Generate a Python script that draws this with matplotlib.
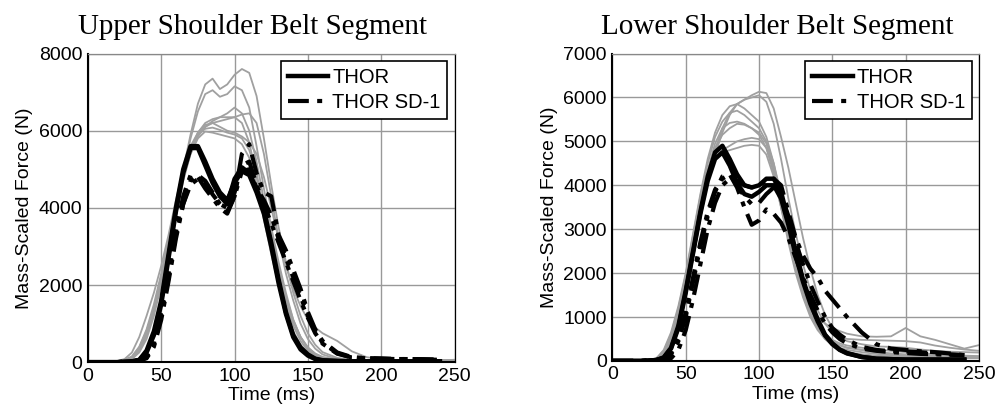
import matplotlib
matplotlib.use("Agg")
import matplotlib.pyplot as plt

# time bases (ms)
time_pmhs = [0, 10, 20, 25, 30, 35, 40, 45, 50, 55, 60, 65, 70, 75, 80, 85, 90, 95, 100, 105,
             110, 115, 120, 125, 130, 135, 140, 145, 150, 155, 160, 170, 180, 190, 200, 210, 220, 230, 240, 250]
time_thor = time_pmhs[:-1]

# Upper shoulder belt - PMHS (gray)
upper_pmhs = [
    [0, 0, 20, 60, 150, 400, 850, 1500, 2300, 3200, 4100, 5000, 5900, 6700, 7200, 7350, 7080, 7200, 7450, 7600,
     7500, 6900, 5800, 4600, 3500, 2600, 1800, 1200, 750, 450, 260, 110, 60, 40, 30, 30, 30, 40, 50, 60],
    [0, 0, 10, 40, 120, 350, 800, 1400, 2200, 3100, 4000, 4900, 5800, 6500, 6950, 7050, 6880, 6950, 7150, 7050,
     6600, 5600, 4500, 3500, 2600, 1800, 1100, 650, 350, 180, 100, 50, 30, 20, 20, 20, 20, 30, 40, 50],
    [0, 0, 10, 30, 100, 300, 700, 1300, 2100, 3000, 3900, 4800, 5500, 5900, 6100, 6250, 6350, 6450, 6600, 6450,
     6000, 5200, 4200, 3300, 2500, 1700, 1100, 650, 380, 220, 130, 60, 40, 30, 20, 20, 20, 30, 40, 50],
    [0, 0, 10, 30, 80, 250, 600, 1200, 2000, 2900, 3800, 4700, 5400, 5850, 6100, 6200, 6250, 6300, 6350, 6420,
     6450, 6200, 5400, 4300, 3200, 2300, 1600, 1000, 600, 350, 200, 80, 50, 30, 20, 20, 20, 30, 40, 50],
    [0, 0, 10, 30, 100, 300, 700, 1300, 2100, 3000, 3900, 4800, 5500, 5950, 6200, 6300, 6350, 6350, 6350, 6200,
     5700, 4800, 3800, 2900, 2100, 1500, 950, 550, 300, 170, 100, 50, 30, 20, 20, 20, 20, 30, 40, 50],
    [0, 0, 30, 80, 250, 650, 1200, 1800, 2500, 3300, 4200, 5000, 5600, 5950, 6150, 6200, 6100, 6000, 5950, 5850,
     5700, 5400, 4800, 4000, 3200, 2500, 1900, 1450, 1100, 900, 750, 550, 280, 130, 70, 50, 40, 40, 50, 60],
    [0, 0, 10, 40, 130, 380, 800, 1400, 2200, 3100, 4000, 4800, 5400, 5800, 5980, 5950, 5900, 5850, 5800, 5650,
     5300, 4600, 3700, 2800, 2000, 1300, 800, 450, 250, 140, 80, 40, 30, 20, 20, 20, 20, 30, 40, 50],
    [0, 0, 10, 30, 100, 300, 700, 1300, 2100, 3000, 3900, 4800, 5500, 5900, 6050, 6080, 6020, 5950, 5900, 5800,
     5500, 4900, 4000, 3100, 2300, 1600, 1050, 650, 380, 220, 130, 60, 40, 30, 20, 20, 20, 30, 40, 50],
]
# Upper shoulder belt - THOR (solid)
upper_thor = [
    [0, 0, 0, 10, 20, 50, 250, 700, 1500, 2700, 3900, 4900, 5550, 5550, 5100, 4650, 4300, 4100, 4750, 5050,
     4900, 4500, 3950, 3100, 2150, 1300, 700, 380, 200, 90, 50, 30, 20, 20, 20, 20, 20, 20, 20],
    [0, 0, 0, 10, 20, 60, 300, 800, 1600, 2800, 4000, 5000, 5600, 5600, 5200, 4750, 4400, 4200, 4650, 4950,
     4850, 4400, 3850, 3000, 2050, 1250, 650, 330, 170, 80, 40, 30, 20, 20, 20, 20, 20, 20, 20],
]
# Upper shoulder belt - THOR SD-1 (dash-dot)
upper_sd1 = [
    [0, 0, 0, 10, 20, 40, 100, 400, 1100, 2100, 3200, 4100, 4700, 4850, 4700, 4400, 4100, 3900, 4300, 5400,
     5650, 4900, 4400, 4300, 3300, 2900, 2400, 1900, 1300, 850, 550, 250, 130, 100, 90, 80, 80, 70, 60],
    [0, 0, 0, 10, 20, 40, 120, 450, 1200, 2200, 3300, 4100, 4600, 4750, 4650, 4350, 4100, 4000, 4400, 5100,
     5200, 4600, 4100, 3600, 3100, 2600, 2100, 1600, 1150, 750, 480, 220, 120, 100, 90, 80, 80, 70, 60],
    [0, 0, 0, 10, 20, 50, 150, 500, 1300, 2300, 3400, 4300, 4850, 4800, 4500, 4250, 4000, 3850, 4300, 4950,
     5000, 4500, 4200, 3800, 3200, 2700, 2200, 1700, 1200, 800, 500, 230, 120, 100, 90, 80, 80, 70, 60],
]

# Lower shoulder belt - PMHS (gray)
lower_pmhs = [
    [0, 0, 10, 20, 50, 200, 550, 1100, 1800, 2600, 3400, 4100, 4700, 5200, 5600, 5850, 5950, 6050, 6130, 6100,
     5750, 5100, 4400, 3600, 2800, 2100, 1500, 1050, 750, 550, 450, 380, 330, 320, 300, 260, 230, 210, 200, 190],
    [0, 0, 10, 20, 40, 150, 450, 950, 1650, 2500, 3350, 4150, 4800, 5300, 5650, 5850, 5950, 6000, 6050, 5900,
     5400, 4600, 3700, 2900, 2200, 1600, 1150, 850, 650, 560, 500, 480, 470, 460, 450, 420, 350, 300, 260, 230],
    [0, 0, 10, 20, 60, 250, 650, 1250, 2000, 2900, 3800, 4600, 5200, 5600, 5800, 5850, 5750, 5600, 5450, 5100,
     4500, 3700, 2900, 2200, 1600, 1100, 750, 500, 350, 250, 200, 150, 120, 100, 90, 80, 70, 60, 60, 60],
    [0, 0, 10, 20, 50, 220, 600, 1200, 1950, 2850, 3750, 4500, 5100, 5450, 5650, 5700, 5600, 5450, 5300, 5000,
     4500, 3800, 3000, 2300, 1700, 1200, 850, 600, 450, 350, 300, 250, 200, 170, 150, 130, 120, 110, 100, 100],
    [0, 0, 10, 20, 50, 200, 550, 1150, 1900, 2750, 3600, 4350, 4950, 5300, 5420, 5450, 5400, 5300, 5150, 4850,
     4300, 3600, 2900, 2200, 1650, 1200, 850, 620, 480, 400, 350, 300, 260, 230, 200, 170, 150, 130, 120, 110],
    [0, 0, 10, 20, 40, 180, 500, 1050, 1800, 2650, 3500, 4200, 4650, 4800, 4900, 5000, 5050, 5080, 5050, 4850,
     4300, 3500, 2700, 2000, 1450, 1000, 700, 500, 380, 300, 250, 200, 160, 130, 110, 100, 90, 80, 80, 80],
    [0, 0, 10, 20, 40, 170, 480, 1000, 1750, 2600, 3450, 4150, 4600, 4750, 4800, 4850, 4900, 4920, 4900, 4700,
     4200, 3500, 2800, 2100, 1500, 1050, 750, 560, 440, 360, 300, 250, 200, 160, 130, 110, 100, 90, 80, 80],
    [0, 0, 10, 20, 50, 200, 550, 1100, 1850, 2700, 3550, 4300, 4850, 5150, 5300, 5400, 5380, 5300, 5200, 4950,
     4400, 3700, 2950, 2250, 1700, 1300, 1000, 850, 750, 680, 620, 560, 550, 560, 750, 560, 480, 380, 280, 360],
]
# Lower shoulder belt - THOR (solid)
lower_thor = [
    [0, 0, 0, 10, 20, 80, 300, 800, 1600, 2500, 3400, 4200, 4750, 4900, 4600, 4250, 4000, 3950, 4000, 4150,
     4150, 3850, 3200, 2500, 1850, 1350, 950, 600, 400, 260, 180, 90, 50, 40, 30, 30, 30, 30, 30],
    [0, 0, 0, 10, 20, 70, 280, 750, 1550, 2450, 3350, 4100, 4600, 4750, 4450, 4050, 3800, 3740, 3850, 4000,
     4000, 3700, 3100, 2400, 1800, 1300, 900, 580, 380, 250, 170, 90, 50, 40, 30, 30, 30, 30, 30],
]
# Lower shoulder belt - THOR SD-1 (dash-dot)
lower_sd1 = [
    [0, 0, 0, 10, 20, 30, 150, 450, 1000, 1800, 2600, 3300, 3850, 4200, 4250, 3950, 3500, 3100, 3200, 3450,
     3350, 3150, 2800, 2350, 1900, 1500, 1150, 850, 650, 500, 400, 280, 230, 200, 180, 160, 150, 140, 130],
    [0, 0, 0, 10, 20, 40, 180, 500, 1100, 1900, 2700, 3400, 3900, 4150, 4250, 4000, 3750, 3570, 3600, 3800,
     3950, 3800, 3300, 2700, 2200, 1750, 1350, 1000, 750, 600, 480, 320, 250, 220, 220, 200, 170, 150, 130],
    [0, 0, 0, 10, 20, 10, 60, 250, 700, 1400, 2200, 3000, 3600, 4000, 4150, 4100, 4000, 3950, 4000, 4100,
     4150, 4000, 3400, 2800, 2400, 2100, 1900, 1600, 1400, 1200, 1000, 650, 380, 280, 250, 220, 200, 170, 130],
]

titles = ["Upper Shoulder Belt Segment", "Lower Shoulder Belt Segment"]
y_limits = [8000, 7000]
y_steps = [2000, 1000]

plt.rcParams["font.family"] = ["Liberation Sans", "DejaVu Sans"]

fig = plt.figure(figsize=(9.99, 4.12), dpi=100)
ax_left = fig.add_axes([0.088, 0.121, 0.367, 0.749])
ax_right = fig.add_axes([0.613, 0.124, 0.367, 0.746])

panels = [
    (ax_left, upper_pmhs, upper_thor, upper_sd1),
    (ax_right, lower_pmhs, lower_thor, lower_sd1),
]

for i, (ax, pmhs, thor, sd1) in enumerate(panels):
    for curve in pmhs:
        ax.plot(time_pmhs, curve, color="#a0a0a0", lw=1.3, zorder=2)
    for curve in sd1:
        ax.plot(time_thor, curve, color="black", lw=3.0, dashes=(5, 2, 1.2, 2), zorder=3)
    for curve in thor:
        ax.plot(time_thor, curve, color="black", lw=3.2, zorder=4)

    ax.set_xlim(0, 250)
    ax.set_ylim(0, y_limits[i])
    ax.set_xticks(range(0, 251, 50))
    ax.set_yticks(range(0, y_limits[i] + 1, y_steps[i]))
    ax.tick_params(length=0, labelsize=14, pad=4)
    ax.grid(True, color="#999999", lw=1.0)
    ax.set_axisbelow(True)
    ax.spines["left"].set_linewidth(1.5)
    ax.spines["bottom"].set_linewidth(1.5)
    ax.spines["top"].set_color("#888888")
    ax.spines["top"].set_linewidth(0.9)
    ax.spines["right"].set_linewidth(0.9)

    # titles sit a little left of the axes centre, as in the original
    ax.set_title(titles[i], family="Liberation Serif", fontsize=21, pad=14, x=0.45)
    ax.set_xlabel("Time (ms)", fontsize=14, labelpad=2)
    ax.set_ylabel("Mass-Scaled Force (N)", fontsize=14, labelpad=4)

    h1, = ax.plot([], [], color="black", lw=3.2)
    h2, = ax.plot([], [], color="black", lw=3.0, dashes=(5, 2, 1.2, 2))
    leg = ax.legend([h1, h2], ["THOR", "THOR SD-1"], loc="upper right", fontsize=14.5,
                    fancybox=False, framealpha=1, edgecolor="black", handlelength=2.0,
                    handletextpad=0.2, borderpad=0.35, labelspacing=0.3,
                    borderaxespad=0.35)
    leg.get_frame().set_linewidth(1.2)

fig.savefig("out.png", dpi=100)
